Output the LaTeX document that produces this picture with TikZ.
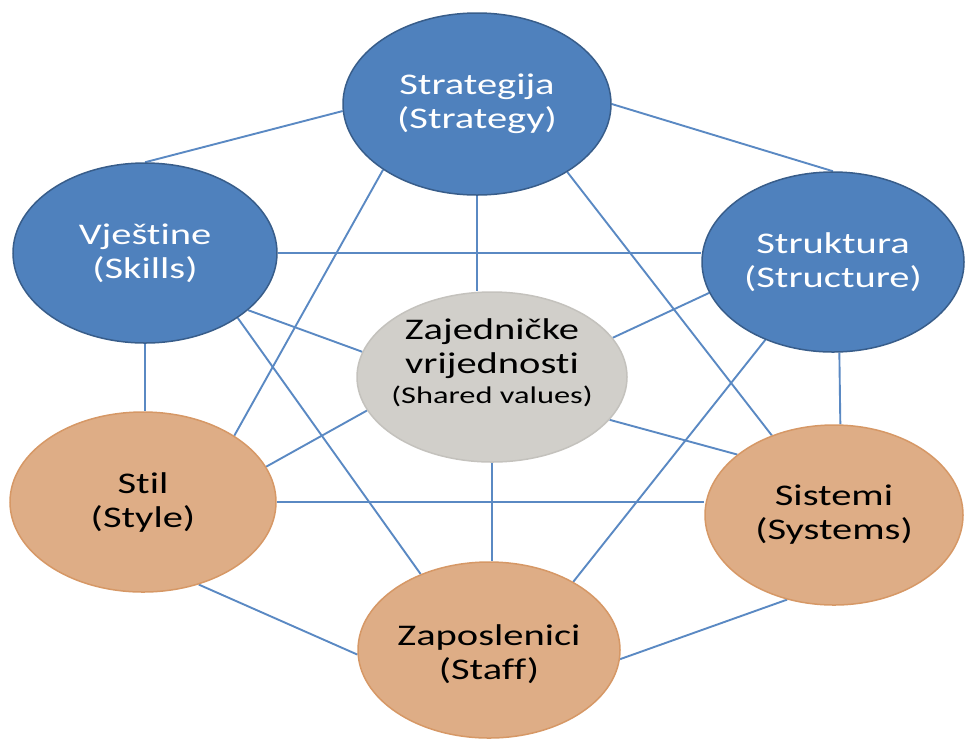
\documentclass[tikz,border=0pt]{standalone}
\usepackage{fontspec}
\setmainfont[FakeStretch=1.35,Ligatures=NoCommon]{Carlito}
\usetikzlibrary{shapes.geometric,backgrounds}

\definecolor{partblue}{RGB}{79,129,189}
\definecolor{partblueline}{RGB}{56,93,138}
\definecolor{parttan}{RGB}{222,173,134}
\definecolor{parttanline}{RGB}{214,152,102}
\definecolor{partgrey}{RGB}{209,207,202}
\definecolor{partgreyline}{RGB}{196,194,189}
\definecolor{linkblue}{RGB}{90,137,195}

\begin{document}
\begin{tikzpicture}
  [x=1pt,y=-1pt,
   every node/.style={ellipse,inner sep=0pt,line width=1.5pt,minimum width=264pt,minimum height=180pt},
   hard/.style={draw=partblueline,fill=partblue},
   soft/.style={draw=parttanline,fill=parttan},
   core/.style={draw=partgreyline,fill=partgrey},
   txt/.style={rectangle,draw=none,fill=none,minimum width=0pt,minimum height=0pt,
     align=center,font=\fontsize{30}{34}\selectfont},
   link/.style={draw=linkblue,line width=1.9pt}]
  \useasboundingbox (0,0) rectangle (965,740);

  \node[hard,minimum width=268pt,minimum height=182pt,
    label={[txt,text=white]center:{Strategija\\(Strategy)}}] (strategy) at (477,104) {};
  \node[hard,label={[txt,text=white]center:{Vještine\\(Skills)}}] (skills) at (145,253) {};
  \node[hard,minimum width=262pt,label={[txt,text=white]center:{Struktura\\(Structure)}}] (structure) at (833,262) {};
  \node[core,minimum width=270pt,minimum height=170pt,
    label={[txt,yshift=14pt]center:{Zajedničke\\vrijednosti\\[-4pt]{\fontsize{24}{28}\selectfont(Shared values)}}}] (shared) at (492,377) {};
  \node[soft,minimum width=266pt,label={[txt]center:{Stil\\(Style)}}] (style) at (143,502) {};
  \node[soft,minimum width=258pt,label={[txt]center:{Sistemi\\(Systems)}}] (systems) at (834,515) {};
  \node[soft,minimum width=262pt,minimum height=176pt,
    label={[txt,yshift=-4pt]center:{Zaposlenici\\(Staff)}}] (staff) at (489,650) {};

  \begin{scope}[on background layer]
  \foreach \from/\to in {strategy.183/skills.north, strategy.east/structure.north,
      strategy.215/style.36, strategy.323/systems.128,
      skills.331/shared.169, skills.325/staff.132,
      structure.194/shared.18, structure.229/staff.39,
      style.16/shared.195, style.304/staff.182,
      shared.340/systems.148, systems.241/staff.356,
      structure.274/systems.86}
    \draw[link] (\from) -- (\to);
  \draw[link] (skills.east) -- (skills.east -| structure.west);
  \draw[link] (style.east) -- (style.east -| systems.west);
  \draw[link] (strategy.south) -- (strategy.south |- shared.north);
  \draw[link] (shared.south) -- (shared.south |- staff.north);
  \draw[link] (skills.south) -- (skills.south |- style.north);
  \end{scope}
\end{tikzpicture}
\end{document}
